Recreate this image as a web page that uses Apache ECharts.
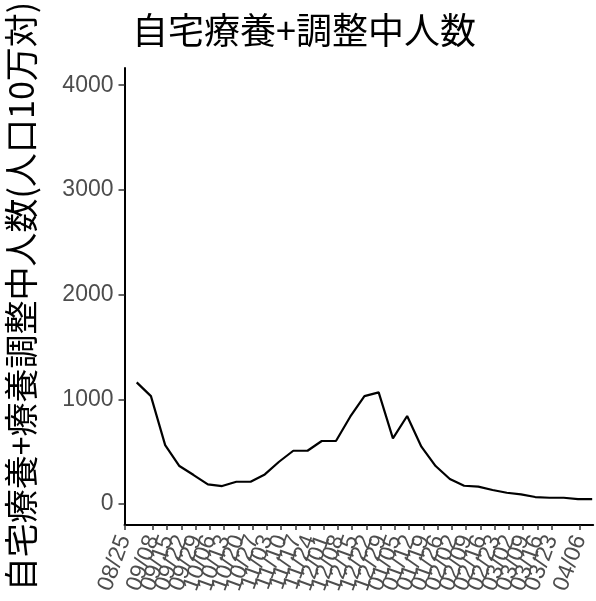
<!DOCTYPE html>
<html>
<head>
<meta charset="utf-8">
<script src="https://cdn.jsdelivr.net/npm/echarts@6/dist/echarts.min.js"></script>
<style>html,body{margin:0;padding:0;background:#fff}#c{width:596px;height:601px}</style>
</head>
<body>
<div id="c"></div>
<script>
// Tick (break) dates shown on the x axis
const tickDates = ['2021-08-25','2021-09-01','2021-09-08','2021-09-15','2021-09-22','2021-09-29',
  '2021-10-06','2021-10-13','2021-10-20','2021-10-27','2021-11-03','2021-11-10','2021-11-17','2021-11-24',
  '2021-12-01','2021-12-08','2021-12-15','2021-12-22','2021-12-29','2022-01-05','2022-01-12','2022-01-19',
  '2022-01-26','2022-02-02','2022-02-09','2022-02-16','2022-02-23','2022-03-02','2022-03-09','2022-03-16',
  '2022-03-23','2022-03-30','2022-04-06'];
// Observation dates of the series
const dataDates = ['2021-08-31','2021-09-07','2021-09-14','2021-09-21','2021-09-28','2021-10-05',
  '2021-10-12','2021-10-19','2021-10-26','2021-11-02','2021-11-09','2021-11-16','2021-11-23','2021-11-30',
  '2021-12-07','2021-12-14','2021-12-21','2021-12-28','2022-01-04','2022-01-11','2022-01-18','2022-01-25',
  '2022-02-01','2022-02-08','2022-02-15','2022-02-22','2022-03-01','2022-03-08','2022-03-15','2022-03-22',
  '2022-03-29','2022-04-05','2022-04-12'];
// 自宅療養+療養調整中人数 (人口10万対)
const values = [1162,1031,563,363,277,188,172,213,213,283,404,509,509,602,602,834,1031,1067,
  627,841,548,363,239,175,166,134,108,92,67,60,60,48,48];
const yTicks = [0,1000,2000,3000,4000];

const DAY = 86400000;
const base = Date.parse(tickDates[0]);
const dayOf = s => Math.round((Date.parse(s) - base) / DAY);
const tickVals = tickDates.map(dayOf);
const tickLabelMap = {};
tickDates.forEach(s => { tickLabelMap[dayOf(s)] = s.slice(5).replace('-', '/'); });
const seriesData = dataDates.map((d, i) => [dayOf(d), values[i]]);

const chart = echarts.init(document.getElementById('c'), null, {renderer: 'canvas'});
chart.setOption({
  backgroundColor: '#ffffff',
  animation: false,
  title: {
    text: '自宅療養+調整中人数',
    left: 299, top: 7, textAlign: 'center',
    textStyle: {fontFamily: 'Noto Sans CJK JP', fontSize: 36, fontWeight: 'normal', color: '#000'}
  },
  grid: {left: 124.5, right: 2.8, top: 68, bottom: 76, containLabel: false, outerBoundsMode: 'none'},
  xAxis: {
    type: 'value', min: 0, max: 230.5,
    splitLine: {show: false},
    axisLine: {show: true, onZero: false, lineStyle: {color: '#000', width: 2}},
    axisTick: {show: true, length: 5, customValues: tickVals, lineStyle: {color: '#333', width: 1.5}},
    axisLabel: {
      customValues: tickVals, rotate: 70, margin: 11,
      showMinLabel: true, showMaxLabel: true, hideOverlap: false,
      fontFamily: 'Liberation Sans, Arial', fontSize: 23, color: '#4d4d4d',
      formatter: v => tickLabelMap[Math.round(v)] || ''
    }
  },
  yAxis: {
    type: 'value', min: -200, max: 4164,
    name: '自宅療養+療養調整中人数(人口10万対)',
    nameLocation: 'middle', nameGap: 86,
    nameTextStyle: {fontFamily: 'Noto Sans CJK JP', fontSize: 34, color: '#000'},
    splitLine: {show: false},
    axisLine: {show: true, onZero: false, lineStyle: {color: '#000', width: 2}},
    axisTick: {show: true, length: 6, customValues: yTicks, lineStyle: {color: '#333', width: 1.5}},
    axisLabel: {
      customValues: yTicks, margin: 11, showMinLabel: true, showMaxLabel: true,
      fontFamily: 'Liberation Sans, Arial', fontSize: 23, color: '#4d4d4d',
      formatter: v => String(v)
    }
  },
  series: [{
    type: 'line', data: seriesData, showSymbol: false, symbol: 'none',
    lineStyle: {color: '#000', width: 2.2}, clip: false
  }]
});
</script>
</body>
</html>
